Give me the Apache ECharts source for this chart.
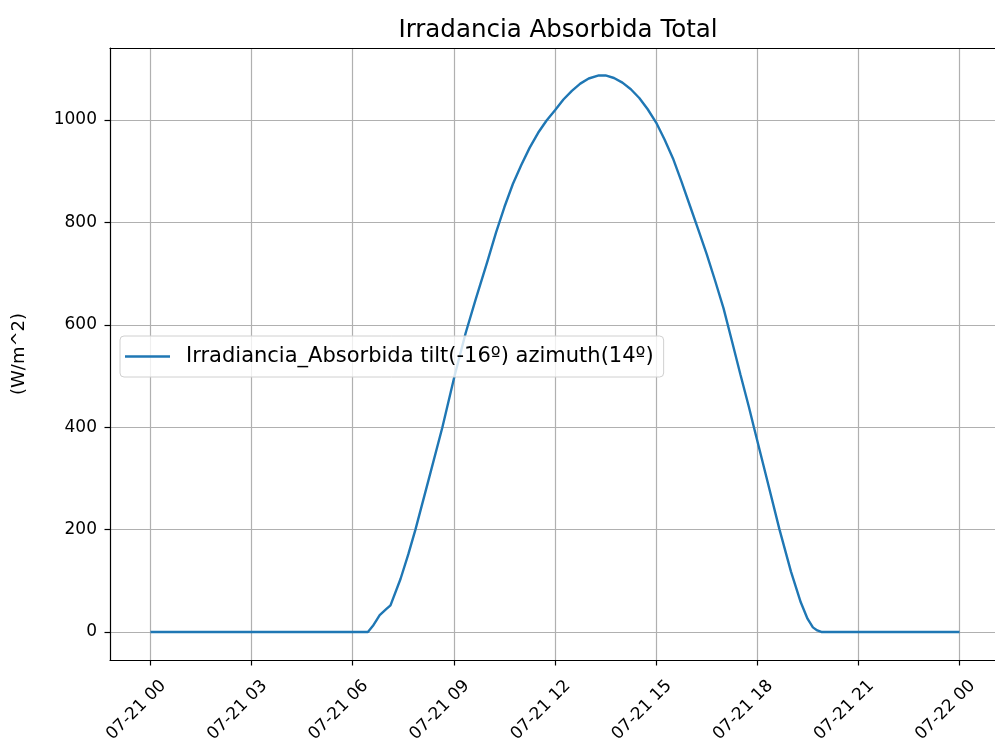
<!DOCTYPE html>
<html>
<head>
<meta charset="utf-8">
<script src="https://cdn.jsdelivr.net/npm/echarts@6/dist/echarts.min.js"></script>
<style>html,body{margin:0;padding:0;background:#fff;}#c{width:995px;height:755px;}</style>
</head>
<body>
<div id="c"></div>
<script>
// Hours after 2021-07-21 00:00
var hours = [0,1,2,3,4,5,6,6.45,6.6,6.8,7.0,7.12,7.42,7.65,7.86,8.25,8.66,9.02,9.35,9.64,10.0,10.25,10.5,10.75,11.0,11.25,11.5,11.75,12.0,12.25,12.5,12.75,13.0,13.3,13.5,13.75,14.0,14.25,14.5,14.75,15.0,15.25,15.5,15.75,16.0,16.25,16.5,16.75,17.0,17.25,17.5,17.75,17.9,18.3,18.66,19.0,19.29,19.49,19.65,19.78,19.9,20,21,22,23,24];
var irradiance = [0,0,0,0,0,0,0,0,12,33,45,52,104,152,200,297,400,500,584,648,725,780,830,875,912,946,975,999,1019,1040,1057,1071,1081,1087,1087,1082,1073,1060,1043,1021,995,962,925,880,833,786,738,686,632,568,503,440,400,295,200,118,58,26,9,3,0,0,0,0,0,0];
var xTickValues = [0,3,6,9,12,15,18,21,24];
var xTickLabels = ['07-21 00','07-21 03','07-21 06','07-21 09','07-21 12','07-21 15','07-21 18','07-21 21','07-22 00'];
var yTickValues = [0,200,400,600,800,1000];
var seriesName = 'Irradiancia_Absorbida tilt(-16º) azimuth(14º)';

var FONT = 'DejaVu Sans';
var data = hours.map(function(h,i){return [h, irradiance[i]];});
var chart = echarts.init(document.getElementById('c'), null, {renderer:'canvas'});
var gridColor = '#b0b0b0';
chart.setOption({
  animation:false,
  backgroundColor:'#ffffff',
  title:{
    text:'Irradancia Absorbida Total',
    left:553, top:13, textAlign:'center',
    textStyle:{fontFamily:FONT, fontSize:24.5, fontWeight:'normal', color:'#000'}
  },
  legend:{
    left:120, top:336,
    padding:[10,10,10,5],
    icon:'rect',
    itemWidth:45, itemHeight:2.5,
    borderColor:'#d0d0d0', borderWidth:1, borderRadius:4,
    backgroundColor:'rgba(255,255,255,0.8)',
    textStyle:{fontFamily:FONT, fontSize:21, color:'#000', padding:[0,0,0,11]},
    data:[seriesName]
  },
  grid:{left:110, top:48, width:890, height:612, containLabel:false, outerBoundsMode:'none'},
  xAxis:[{
    type:'value', min:-1.2, max:25.2,
    axisLine:{show:true, onZero:false, lineStyle:{color:'#000', width:1.2}},
    axisTick:{show:true, inside:false, length:5.5, customValues:xTickValues, lineStyle:{color:'#000', width:1.2}},
    axisLabel:{
      customValues:xTickValues, rotate:45, margin:36, align:'center', verticalAlign:'middle',
      padding:[0,40,0,0],
      fontFamily:FONT, fontSize:17, color:'#000',
      formatter:function(v){var i=xTickValues.indexOf(v);return i>=0?xTickLabels[i]:'';}
    },
    splitLine:{show:true, lineStyle:{color:gridColor, width:1.2}}
  },{
    type:'value', position:'top', min:-1.2, max:25.2,
    axisLine:{show:true, onZero:false, lineStyle:{color:'#000', width:1.2}},
    axisTick:{show:false}, axisLabel:{show:false}, splitLine:{show:false}
  }],
  yAxis:{
    type:'value', min:-54.7, max:1140.6,
    name:'(W/m^2)', nameLocation:'middle', nameRotate:90, nameGap:82,
    nameTextStyle:{fontFamily:FONT, fontSize:18, color:'#000'},
    axisLine:{show:true, onZero:false, lineStyle:{color:'#000', width:1.2}},
    axisTick:{show:true, inside:false, length:5.5, customValues:yTickValues, lineStyle:{color:'#000', width:1.2}},
    axisLabel:{customValues:yTickValues, margin:13, fontFamily:FONT, fontSize:17, color:'#000',
      formatter:function(v){return String(v);}},
    splitLine:{show:true, lineStyle:{color:gridColor, width:1.2}}
  },
  series:[{
    name:seriesName, type:'line', data:data, xAxisIndex:0,
    symbol:'none', smooth:false,
    lineStyle:{color:'#1f77b4', width:2.4},
    itemStyle:{color:'#1f77b4'},
    z:3
  }]
});
</script>
</body>
</html>
